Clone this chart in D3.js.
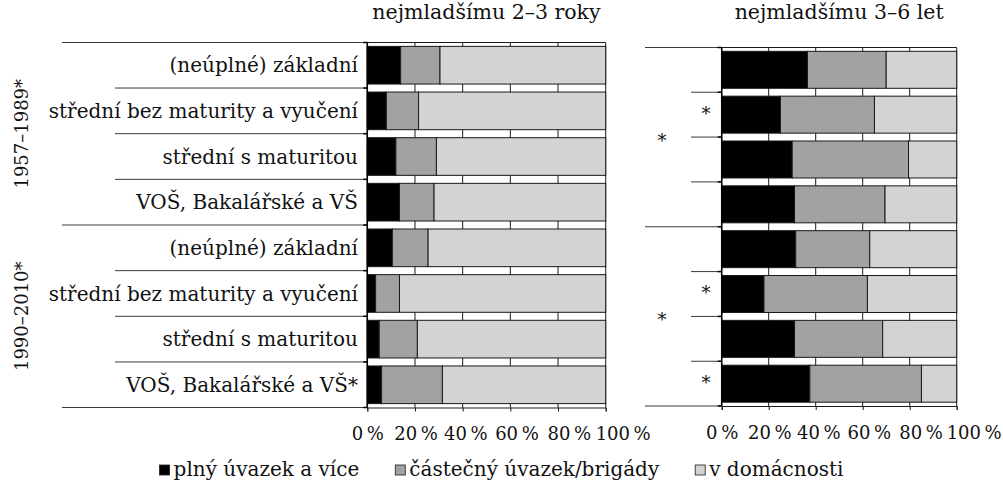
<!DOCTYPE html>
<html>
<head>
<meta charset="utf-8">
<script src="https://cdn.jsdelivr.net/npm/d3@7"></script>
<style>
  body { margin: 0; background: #fff; }
  svg { font-family: "DejaVu Serif", serif; }
</style>
</head>
<body>
<div id="chart"></div>
<script>
// data
const groups = ['1957–1989*', '1990–2010*'];
const rowLabels = [
    '(neúplné) základní', 'střední bez maturity a vyučení', 'střední s maturitou', 'VOŠ, Bakalářské a VŠ',
    '(neúplné) základní', 'střední bez maturity a vyučení', 'střední s maturitou', 'VOŠ, Bakalářské a VŠ*'
];
const seriesNames = ['plný úvazek a více', 'částečný úvazek/brigády', 'v domácnosti'];
const tickValues = [0, 20, 40, 60, 80, 100];

// nejmladšímu 2–3 roky
const young23Full = [14, 8, 12, 13.5, 10.5, 3.5, 5, 6];
const young23Part = [16.5, 13.5, 17, 14.5, 15, 10, 16, 25.5];
const young23Home = [69.5, 78.5, 71, 72, 74.5, 86.5, 79, 68.5];

// nejmladšímu 3–6 let
const young36Full = [36.5, 25, 30, 31, 31.5, 18, 31, 37.5];
const young36Part = [33.5, 40, 49.5, 38.5, 31.5, 44, 37.5, 47.5];
const young36Home = [30, 35, 20.5, 30.5, 37, 38, 31.5, 15];
const young36RowSig = [false, true, false, false, false, true, false, true];
const young36GroupSig = [true, true];

const colors = ['#000000', '#a1a2a4', '#d2d3d5'];
const keys = ['full', 'part', 'home'];

const width = 1003, height = 490;
const svg = d3.select('#chart').append('svg')
    .attr('width', width)
    .attr('height', height);

function drawPanel(opt) {
    const g = svg.append('g');
    const rows = rowLabels.map((r, i) => ({id: i, full: opt.full[i], part: opt.part[i], home: opt.home[i]}));
    const stacked = d3.stack().keys(keys)(rows);

    const x = d3.scaleLinear().domain([0, 100]).range(opt.xRange);
    const y = d3.scaleBand().domain(d3.range(rows.length)).range(opt.yRange)
        .paddingInner(0.175).paddingOuter(0.085);
    const half = (y.step() - y.bandwidth()) / 2;
    const bounds = d3.range(rows.length + 1).map(i =>
        i === 0 ? opt.yRange[0] : i === rows.length ? opt.yRange[1] : y(i) - half);

    // grid
    g.selectAll('.grid').data(tickValues).join('line')
        .attr('x1', d => x(d)).attr('x2', d => x(d))
        .attr('y1', opt.yRange[0]).attr('y2', opt.yRange[1])
        .attr('stroke', '#1a1a1a').attr('stroke-width', 1);

    // bars
    g.selectAll('.layer').data(stacked).join('g')
        .attr('fill', (d, i) => colors[i])
        .selectAll('rect').data(d => d).join('rect')
        .attr('x', d => x(d[0]))
        .attr('width', d => x(d[1]) - x(d[0]))
        .attr('y', d => y(d.data.id))
        .attr('height', y.bandwidth())
        .attr('stroke', '#1a1a1a')
        .attr('stroke-width', 1);

    // top frame line
    g.append('line')
        .attr('x1', opt.xRange[0]).attr('x2', opt.xRange[1])
        .attr('y1', opt.yRange[0]).attr('y2', opt.yRange[0])
        .attr('stroke', '#1a1a1a');

    // x axis (labels drift right like in the original typesetting)
    g.append('g')
        .attr('transform', 'translate(0,' + opt.yRange[1] + ')')
        .call(d3.axisBottom(x).tickValues(tickValues).tickSize(4).tickPadding(16)
            .tickFormat(d => d + '\u2009%'))
        .call(a => a.selectAll('path, line').attr('stroke', '#1a1a1a'))
        .call(a => a.selectAll('text').attr('font-size', 18).attr('fill', '#111')
            .attr('dx', d => d * d * 0.0017)
            .attr('font-family', '"DejaVu Serif", serif'));

    // left axis
    g.append('line')
        .attr('x1', opt.xRange[0]).attr('x2', opt.xRange[0])
        .attr('y1', opt.yRange[0]).attr('y2', opt.yRange[1])
        .attr('stroke', '#000').attr('stroke-width', 1.5);

    // category separator lines
    g.selectAll('.sep').data(bounds).join('line')
        .attr('x1', (d, i) => i % 4 === 0 ? opt.groupLineX : opt.innerLineX)
        .attr('x2', opt.xRange[0])
        .attr('y1', d => d).attr('y2', d => d)
        .attr('stroke', '#3a3a3a').attr('stroke-width', 1);
    g.selectAll('.tick-l').data(bounds).join('line')
        .attr('x1', opt.xRange[0] - 4).attr('x2', opt.xRange[0])
        .attr('y1', d => d).attr('y2', d => d)
        .attr('stroke', '#000').attr('stroke-width', 1.5);

    // title
    g.append('text')
        .attr('x', (opt.xRange[0] + opt.xRange[1]) / 2)
        .attr('y', 19)
        .attr('text-anchor', 'middle')
        .attr('font-size', 20.5)
        .attr('fill', '#111')
        .text(opt.title);

    return {x, y, bounds};
}

const left = drawPanel({
    xRange: [367.3, 605.7], yRange: [42.5, 407.5],
    groupLineX: 62, innerLineX: 115,
    full: young23Full, part: young23Part, home: young23Home,
    title: 'nejmladšímu 2–3 roky'
});

const right = drawPanel({
    xRange: [721.7, 956.7], yRange: [47.5, 406],
    groupLineX: 645, innerLineX: 691,
    full: young36Full, part: young36Part, home: young36Home,
    title: 'nejmladšímu 3–6 let'
});

// row labels
svg.append('g').selectAll('text').data(rowLabels).join('text')
    .attr('x', 358)
    .attr('y', (d, i) => left.y(i) + left.y.bandwidth() / 2)
    .attr('dy', '0.36em')
    .attr('text-anchor', 'end')
    .attr('font-size', 20)
    .attr('fill', '#111')
    .text(d => d);

// group labels
svg.append('g').selectAll('text').data(groups).join('text')
    .attr('transform', (d, i) => 'translate(22,' + (left.bounds[i * 4] + left.bounds[i * 4 + 4]) / 2 + ') rotate(-90)')
    .attr('dy', '0.36em')
    .attr('text-anchor', 'middle')
    .attr('font-size', 18)
    .attr('fill', '#111')
    .text(d => d);

// significance marks in the right panel
svg.append('g').selectAll('text').data(young36RowSig).join('text')
    .attr('x', 706)
    .attr('y', (d, i) => right.y(i) + right.y.bandwidth() / 2 + 5)
    .attr('text-anchor', 'middle')
    .attr('font-size', 18)
    .attr('fill', '#111')
    .text(d => d ? '*' : '');

svg.append('g').selectAll('text').data(young36GroupSig).join('text')
    .attr('x', 662)
    .attr('y', (d, i) => (right.bounds[i * 4] + right.bounds[i * 4 + 4]) / 2 + 10)
    .attr('text-anchor', 'middle')
    .attr('font-size', 18)
    .attr('fill', '#111')
    .text(d => d ? '*' : '');

// legend
const legend = svg.append('g');
const items = legend.selectAll('g').data(seriesNames).join('g');
items.append('rect')
    .attr('width', 10).attr('height', 10)
    .attr('y', -11)
    .attr('fill', (d, i) => colors[i])
    .attr('stroke', '#1a1a1a').attr('stroke-width', 0.8);
items.append('text')
    .attr('x', 14)
    .attr('font-size', 20)
    .attr('fill', '#111')
    .text(d => d);

let pos = 0;
const offsets = [];
items.each(function() {
    offsets.push(pos);
    pos += 14 + this.querySelector('text').getComputedTextLength() + 36;
});
const legendWidth = pos - 36;
const legendX = 501.5 - legendWidth / 2;
items.attr('transform', (d, i) => 'translate(' + (legendX + offsets[i]) + ',476)');
</script>
</body>
</html>
